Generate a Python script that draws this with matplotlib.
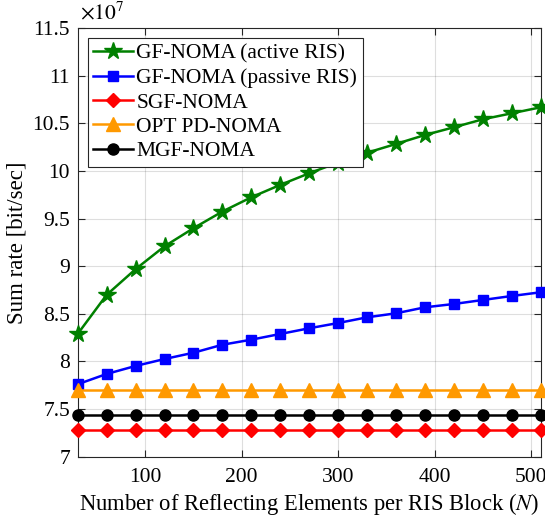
import matplotlib
matplotlib.use("Agg")
import matplotlib.pyplot as plt
import numpy as np

plt.rcParams['font.family'] = ['Liberation Serif', 'DejaVu Serif']
plt.rcParams['mathtext.fontset'] = 'stix'

# Number of reflecting elements per RIS block
N = [30, 60, 90, 120, 150, 180, 210, 240, 270, 300, 330, 360, 390, 420, 450, 480, 510]

# Sum rate values, in units of 1e7 bit/sec
gf_active = [8.29, 8.70, 8.97, 9.21, 9.40, 9.575, 9.725, 9.855, 9.977, 10.09,
             10.193, 10.285, 10.379, 10.46, 10.544, 10.607, 10.67]
gf_passive = [7.761, 7.869, 7.953, 8.026, 8.092, 8.176, 8.229, 8.289, 8.349, 8.404,
              8.464, 8.506, 8.569, 8.604, 8.646, 8.688, 8.727]
sgf = [7.28] * 17
opt_pd = [7.70] * 17
mgf = [7.435] * 17

series = [
    ("GF-NOMA (active RIS)", gf_active, "#008000", "*", 13),
    ("GF-NOMA (passive RIS)", gf_passive, "#0000FF", "s", 7.5),
    ("SGF-NOMA", sgf, "#FF0000", "D", 7),
    ("OPT PD-NOMA", opt_pd, "#FF9900", "^", 9.5),
    ("MGF-NOMA", mgf, "#000000", "o", 8),
]

fig = plt.figure(figsize=(5.45, 5.23), dpi=100)
ax = fig.add_axes([0.1426, 0.1268, 0.992 - 0.1426, 0.9459 - 0.1268])

for label, vals, color, marker, ms in series:
    ax.plot(N, vals, color=color, marker=marker, markersize=ms, linewidth=1.8,
            label=label, clip_on=False, zorder=3)

ax.set_xlim(30, 510)
ax.set_ylim(7, 11.5)
ax.set_xticks([100, 200, 300, 400, 500])
yt = np.arange(7, 11.51, 0.5)
ax.set_yticks(yt)
ax.set_yticklabels([f"{v:g}" for v in yt])

ax.grid(True, color="#000000", alpha=0.13, linewidth=0.8)
ax.set_axisbelow(True)
ax.tick_params(direction="in", top=True, right=True, labelsize=15.5,
               color="#262626", length=5, width=0.8)
ax.tick_params(axis="x", pad=8)
ax.tick_params(axis="y", pad=5.5)
for s in ax.spines.values():
    s.set_color("#262626")
    s.set_linewidth(0.8)

ax.set_xlabel("Number of Reflecting Elements per RIS Block ($\\mathit{N}$)", fontsize=16.3, labelpad=3)
ax.set_ylabel("Sum rate [bit/sec]", fontsize=16.5, labelpad=4)
ax.text(0.005, 1.01, "$\\times10^{7}$", transform=ax.transAxes, fontsize=15.5,
        ha="left", va="bottom")

leg = ax.legend(loc="upper left", fontsize=15.5, frameon=True, fancybox=False,
                edgecolor="#262626", framealpha=1, borderpad=0.25, labelspacing=0.2,
                handlelength=1.85, handletextpad=0.15, borderaxespad=0.47)
leg.get_frame().set_linewidth(0.8)

fig.savefig("out.png", dpi=100)
